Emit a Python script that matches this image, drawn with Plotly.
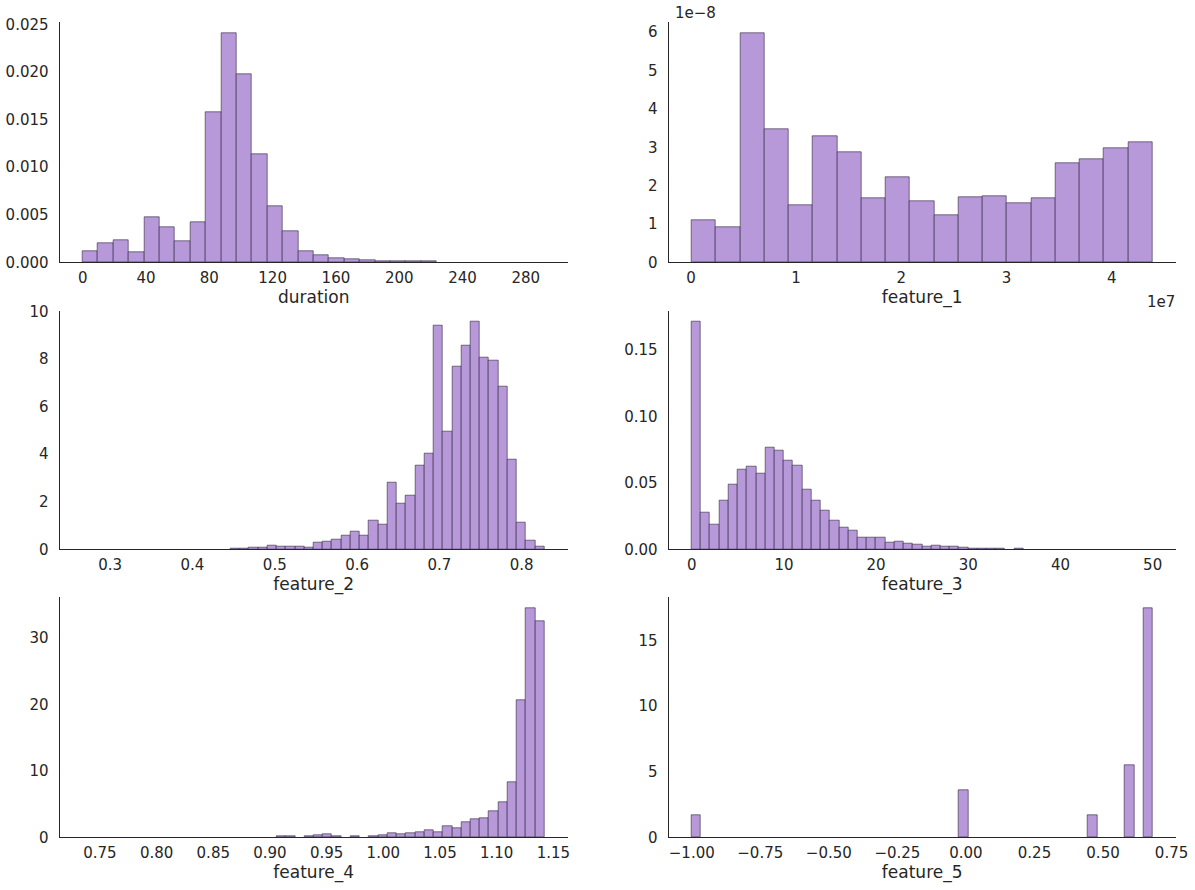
import plotly.graph_objects as go

# ---------------- data (density histograms) ----------------
duration_start = 0.0
duration_width = 9.73
duration_density = [0.00115, 0.00199, 0.00231, 0.00105, 0.00472, 0.00367, 0.00220, 0.00420,
                    0.01573, 0.02402, 0.01972, 0.01133, 0.00587, 0.00325, 0.00115, 0.00073,
                    0.00045, 0.00035, 0.00021, 0.00011, 0.00009, 0.00008, 0.00008, 0.0,
                    0.0, 0.0, 0.0, 0.0, 0.0, 0.0]
duration_xticks = [0, 40, 80, 120, 160, 200, 240, 280]
duration_yticks = [0.0, 0.005, 0.010, 0.015, 0.020, 0.025]

# feature_1 in units of 1e7 (x) and 1e-8 (y)
feature_1_start = 0.008
feature_1_width = 0.2306
feature_1_density = [1.09, 0.91, 5.96, 3.46, 1.48, 3.28, 2.86, 1.67, 2.21, 1.59,
                     1.22, 1.69, 1.72, 1.54, 1.67, 2.58, 2.68, 2.97, 3.12]
feature_1_xticks = [0, 1, 2, 3, 4]
feature_1_yticks = [0, 1, 2, 3, 4, 5, 6]

feature_2_start = 0.2668
feature_2_width = 0.01122
feature_2_density = [0.0, 0.0, 0.0, 0.0, 0.0, 0.0, 0.0, 0.0, 0.0, 0.0,
                     0.0, 0.0, 0.0, 0.0, 0.0, 0.0, 0.04, 0.04, 0.08, 0.08,
                     0.17, 0.13, 0.13, 0.13, 0.08, 0.29, 0.34, 0.42, 0.59, 0.75,
                     0.59, 1.22, 1.05, 2.81, 1.93, 2.26, 3.52, 4.02, 9.39, 4.94,
                     7.67, 8.55, 9.55, 8.04, 7.92, 6.83, 3.77, 1.13, 0.38, 0.13]
feature_2_xticks = [0.3, 0.4, 0.5, 0.6, 0.7, 0.8]
feature_2_yticks = [0, 2, 4, 6, 8, 10]

feature_3_start = 0.0
feature_3_width = 1.0
feature_3_density = [0.171, 0.0278, 0.0188, 0.0368, 0.0488, 0.060, 0.0623, 0.057, 0.0765, 0.0743,
                     0.0668, 0.063, 0.045, 0.0368, 0.0293, 0.0218, 0.0165, 0.0143, 0.009, 0.009,
                     0.009, 0.0053, 0.006, 0.0045, 0.0038, 0.0023, 0.003, 0.0023, 0.0023, 0.0015,
                     0.0008, 0.0008, 0.0008, 0.0008, 0.0, 0.0005, 0.0, 0.0, 0.0, 0.0,
                     0.0, 0.0, 0.0, 0.0, 0.0, 0.0, 0.0, 0.0, 0.0, 0.0]
feature_3_xticks = [0, 10, 20, 30, 40, 50]
feature_3_yticks = [0.0, 0.05, 0.10, 0.15]

feature_4_start = 0.7349
feature_4_width = 0.008148
feature_4_density = [0.0, 0.0, 0.0, 0.0, 0.0, 0.0, 0.0, 0.0, 0.0, 0.0,
                     0.0, 0.0, 0.0, 0.0, 0.0, 0.0, 0.0, 0.0, 0.0, 0.0,
                     0.0, 0.15, 0.15, 0.0, 0.15, 0.30, 0.45, 0.15, 0.0, 0.15,
                     0.0, 0.15, 0.30, 0.60, 0.45, 0.60, 0.75, 1.05, 0.75, 1.66,
                     1.36, 2.26, 2.71, 2.86, 3.92, 5.28, 8.29, 20.65, 34.37, 32.41]
feature_4_xticks = [0.75, 0.80, 0.85, 0.90, 0.95, 1.00, 1.05, 1.10, 1.15]
feature_4_yticks = [0, 10, 20, 30]

feature_5_start = -1.0
feature_5_width = 0.03362
feature_5_density = [1.66] + [0.0] * 28 + [3.59] + [0.0] * 13 + [1.66, 0.0, 0.0, 0.0, 5.50, 0.0, 17.42]
feature_5_xticks = [-1.0, -0.75, -0.5, -0.25, 0.0, 0.25, 0.5, 0.75]
feature_5_yticks = [0, 5, 10, 15]

# ---------------- styling ----------------
W, H = 1195, 890
FONT = "DejaVu Sans"
TXT = "#262626"
FILL = "#b799d9"
EDGE = "rgba(45,35,60,0.6)"

# plot areas in pixels: (left, right) and (top, bottom)
cols = [(59.7, 567.7), (668.7, 1175.7)]
rows = [(22.3, 262.3), (310.7, 549.3), (597.3, 837.3)]

panels = [
    ("duration", duration_start, duration_width, duration_density, duration_xticks, duration_yticks, None, ".3f"),
    ("feature_1", feature_1_start, feature_1_width, feature_1_density, feature_1_xticks, feature_1_yticks, "d", "d"),
    ("feature_2", feature_2_start, feature_2_width, feature_2_density, feature_2_xticks, feature_2_yticks, ".1f", "d"),
    ("feature_3", feature_3_start, feature_3_width, feature_3_density, feature_3_xticks, feature_3_yticks, "d", ".2f"),
    ("feature_4", feature_4_start, feature_4_width, feature_4_density, feature_4_xticks, feature_4_yticks, ".2f", "d"),
    ("feature_5", feature_5_start, feature_5_width, feature_5_density, feature_5_xticks, feature_5_yticks, ".2f", "d"),
]


def px_x(p):
    return p / W


def px_y(p):
    return 1 - p / H


fig = go.Figure()
layout = dict(
    template="none",
    width=W, height=H,
    margin=dict(l=0, r=0, t=0, b=0, pad=0),
    paper_bgcolor="white", plot_bgcolor="white",
    showlegend=False,
    font=dict(family=FONT, color=TXT, size=15),
    bargap=0,
)

for i, (name, start, width, dens, xt, yt, xfmt, yfmt) in enumerate(panels):
    n = len(dens)
    centers = [start + (k + 0.5) * width for k in range(n)]
    heights = [v if v > 0 else None for v in dens]
    span = n * width
    xr = [start - 0.05 * span, start + span + 0.05 * span]
    yr = [0, max(dens) * 1.05]
    idx = "" if i == 0 else str(i + 1)
    fig.add_trace(go.Bar(
        x=centers, y=heights, width=width,
        marker=dict(color=FILL, line=dict(color=EDGE, width=1)),
        xaxis="x" + idx, yaxis="y" + idx,
        hoverinfo="x+y",
    ))
    c = cols[i % 2]
    r = rows[i // 2]
    xdom = [px_x(c[0]), px_x(c[1])]
    ydom = [px_y(r[1]), px_y(r[0])]
    common = dict(showgrid=False, zeroline=False, showline=True, linecolor=TXT,
                  linewidth=1.25, ticks="", automargin=False, mirror=False,
                  tickfont=dict(family=FONT, size=15, color=TXT))
    xax = dict(common, domain=xdom, range=xr, anchor="y" + idx, tickvals=xt,
               title=dict(text=name, font=dict(family=FONT, size=17, color=TXT), standoff=4),
               ticklabelstandoff=2)
    if xfmt == "d":
        xax["ticktext"] = [str(int(v)) for v in xt]
    elif xfmt is not None:
        xax["tickformat"] = xfmt
    yax = dict(common, domain=ydom, range=yr, anchor="x" + idx, tickvals=yt,
               ticklabelstandoff=7)
    if yfmt == "d":
        yax["ticktext"] = [str(int(v)) for v in yt]
    else:
        yax["tickformat"] = yfmt
    layout["xaxis" + idx] = xax
    layout["yaxis" + idx] = yax

layout["annotations"] = [
    dict(text="1e\u22128", x=px_x(673), y=px_y(13), xref="paper", yref="paper",
         xanchor="left", yanchor="middle", showarrow=False,
         font=dict(family=FONT, size=15, color=TXT)),
    dict(text="1e7", x=px_x(1161), y=px_y(302), xref="paper", yref="paper",
         xanchor="center", yanchor="middle", showarrow=False,
         font=dict(family=FONT, size=15, color=TXT)),
]

fig.update_layout(**layout)
fig.write_html(
    "out.html",
    config={"displayModeBar": False},
    post_script="document.body.style.margin='0';document.body.style.padding='0';",
)
